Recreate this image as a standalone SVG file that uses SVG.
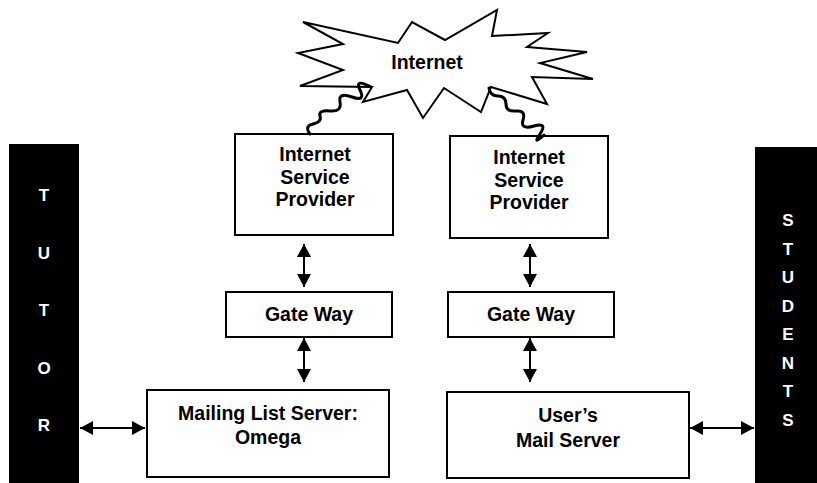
<svg xmlns="http://www.w3.org/2000/svg" width="817" height="483" viewBox="0 0 817 483">
  <style>
    .box { fill: #fff; stroke: #000; stroke-width: 2; }
    .lbl { font-family: "Liberation Sans", Arial, sans-serif; font-weight: bold; font-size: 19.5px; fill: #000; text-anchor: middle; }
    .bar { fill: #000; }
    .barlbl { font-family: "Liberation Sans", Arial, sans-serif; font-weight: bold; font-size: 17px; fill: #fff; text-anchor: middle; }
    .link { stroke: #000; stroke-width: 2; fill: none; marker-start: url(#head); marker-end: url(#head); }
    .wave { stroke: #000; stroke-width: 3; fill: none; stroke-linecap: round; }
    .cloud { fill: #fff; stroke: #000; stroke-width: 2; stroke-linejoin: miter; }
  </style>
  <defs>
    <marker id="head" viewBox="0 0 13 14" refX="13" refY="7" markerWidth="13" markerHeight="14" markerUnits="userSpaceOnUse" orient="auto-start-reverse">
      <path d="M0,0 L13,7 L0,14 z" fill="#000"/>
    </marker>
  </defs>

  <!-- Internet starburst -->
  <g id="internet">
    <polygon class="cloud" points="303,22 398,43 412,22 445,40 497,10 492,36 548,33 527,47 587,52 540,63 593,79 532,77 547,104 491,87 481,112 444,88 423,118 407,90 363,102 372,87 300,86 343,70 298,53 343,44"/>
    <text class="lbl" x="427" y="69">Internet</text>
  </g>

  <!-- Side bars -->
  <g id="tutor">
    <rect class="bar" x="9" y="144" width="70" height="339"/>
    <text class="barlbl" x="44" y="201">T</text>
    <text class="barlbl" x="44" y="258.5">U</text>
    <text class="barlbl" x="44" y="316">T</text>
    <text class="barlbl" x="44" y="373.5">O</text>
    <text class="barlbl" x="44" y="431">R</text>
  </g>
  <g id="students">
    <rect class="bar" x="755" y="147" width="62" height="336"/>
    <text class="barlbl" x="788" y="226">S</text>
    <text class="barlbl" x="788" y="254.5">T</text>
    <text class="barlbl" x="788" y="283">U</text>
    <text class="barlbl" x="788" y="311.5">D</text>
    <text class="barlbl" x="788" y="340">E</text>
    <text class="barlbl" x="788" y="368.5">N</text>
    <text class="barlbl" x="788" y="397">T</text>
    <text class="barlbl" x="788" y="425.5">S</text>
  </g>

  <!-- Left column -->
  <g id="isp-left">
    <rect class="box" x="235" y="134" width="158" height="101"/>
    <text class="lbl" x="315" y="161">Internet</text>
    <text class="lbl" x="315" y="184">Service</text>
    <text class="lbl" x="315" y="206">Provider</text>
  </g>
  <g id="gateway-left">
    <rect class="box" x="226" y="292" width="166" height="45"/>
    <text class="lbl" x="309" y="321">Gate Way</text>
  </g>
  <g id="mailing-list">
    <rect class="box" x="147" y="390" width="242" height="87"/>
    <text class="lbl" x="268" y="420">Mailing List Server:</text>
    <text class="lbl" x="268" y="444">Omega</text>
  </g>

  <!-- Right column -->
  <g id="isp-right">
    <rect class="box" x="450" y="136" width="158" height="102"/>
    <text class="lbl" x="529" y="164">Internet</text>
    <text class="lbl" x="529" y="187">Service</text>
    <text class="lbl" x="529" y="209">Provider</text>
  </g>
  <g id="gateway-right">
    <rect class="box" x="448" y="292" width="166" height="45"/>
    <text class="lbl" x="531" y="321">Gate Way</text>
  </g>
  <g id="mail-server">
    <rect class="box" x="447" y="392" width="242" height="86"/>
    <text class="lbl" x="568" y="422">User’s</text>
    <text class="lbl" x="568" y="447">Mail Server</text>
  </g>

  <!-- Connectors -->
  <g id="connectors">
    <path class="wave" d="M310,134 Q304,126 313,124 T320,116 T330,111 T340,102 T352,97 T360,90 T371,87"/>
    <path class="wave" d="M489,88 Q490,96 498,96 T506,104 T516,111 T523,120 T534,126 T540,134 T544,135"/>
    <line class="link" x1="304" y1="244" x2="304" y2="287"/>
    <line class="link" x1="304" y1="338" x2="304" y2="382"/>
    <line class="link" x1="530" y1="244" x2="530" y2="287"/>
    <line class="link" x1="530" y1="338" x2="530" y2="382"/>
    <line class="link" x1="80" y1="428" x2="145" y2="428"/>
    <line class="link" x1="690" y1="428" x2="754" y2="428"/>
  </g>
</svg>
